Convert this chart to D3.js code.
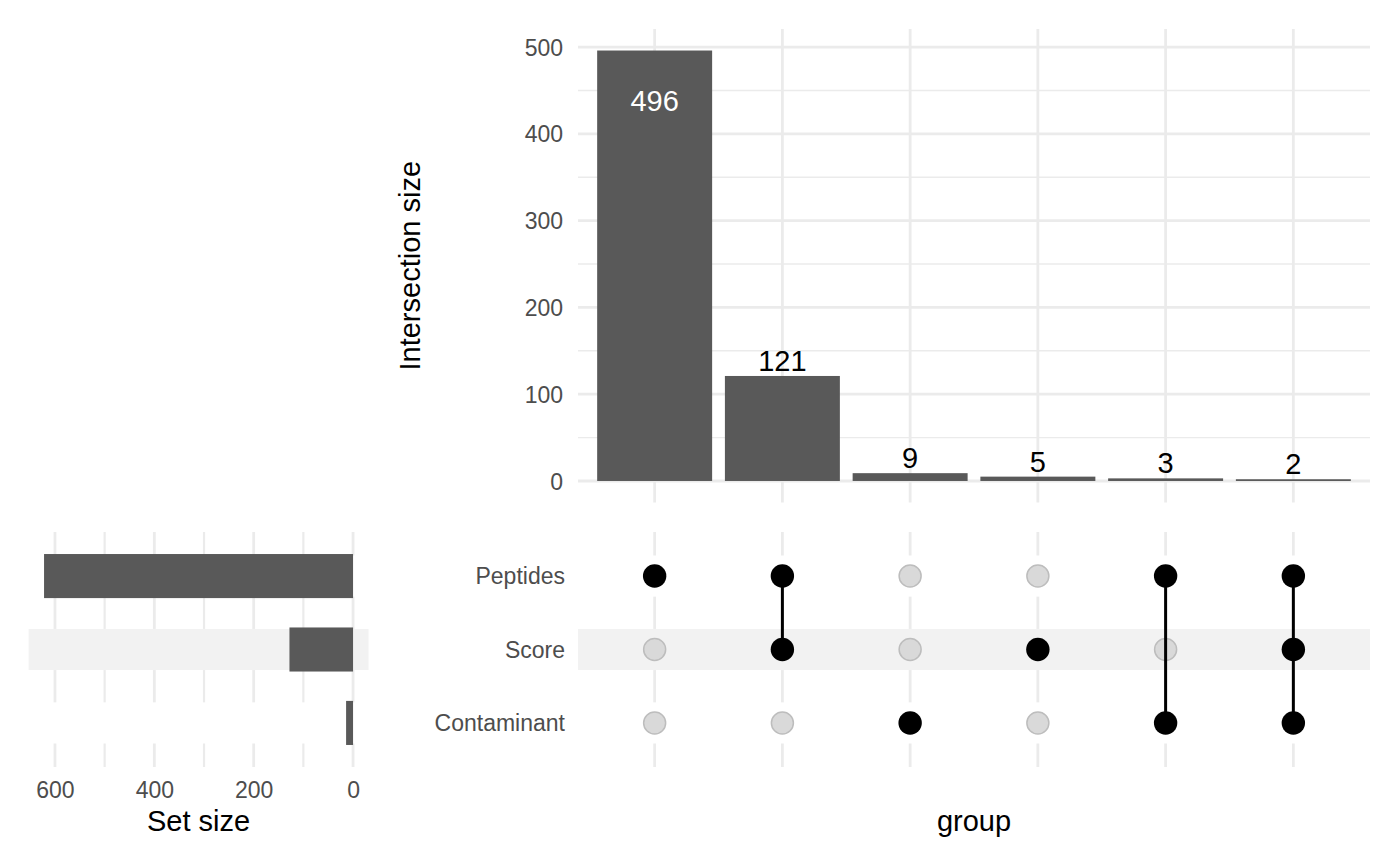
<!DOCTYPE html>
<html>
<head>
<meta charset="utf-8">
<script src="https://cdn.jsdelivr.net/npm/d3@7"></script>
<style>
  html, body { margin: 0; padding: 0; background: #fff; }
  svg { display: block; font-family: "Liberation Sans", Arial, Helvetica, sans-serif; }
</style>
</head>
<body>
<svg id="chart" width="1400" height="866"></svg>
<script>
// ---------------- data ----------------
const sets = ["Peptides", "Score", "Contaminant"];
const setSizes = [622, 128, 14];
const intersectionIds = ["Peptides", "Peptides-Score", "Contaminant", "Score", "Peptides-Contaminant", "Peptides-Score-Contaminant"];
const intersectionSizes = [496, 121, 9, 5, 3, 2];
const intersectionMembers = [
  ["Peptides"],
  ["Peptides", "Score"],
  ["Contaminant"],
  ["Score"],
  ["Peptides", "Contaminant"],
  ["Peptides", "Score", "Contaminant"]
];
const sizeTicks = [0, 100, 200, 300, 400, 500];
const sizeMinorTicks = [50, 150, 250, 350, 450];
const setTicks = [0, 200, 400, 600];
const setMinorTicks = [100, 300, 500];

// ---------------- layout ----------------
const svg = d3.select("#chart");
const gridColor = "#ebebeb";
const barColor = "#595959";
const tickColor = "#4d4d4d";

const mainX = [578, 1370];
const topY = [29, 502.5];
const matY = [532, 767];
const setX = [28.6, 368.5];

const x = d3.scalePoint().domain(intersectionIds).range(mainX).padding(0.6);
const step = x.step();

const maxI = d3.max(intersectionSizes);
const y = d3.scaleLinear().domain([-0.05 * maxI, 1.05 * maxI]).range([topY[1], topY[0]]);

const rowY = d3.scalePoint().domain(sets).range(matY).padding(0.6);
const rstep = rowY.step();

const maxS = d3.max(setSizes);
const sx = d3.scaleLinear().domain([-0.05 * maxS, 1.05 * maxS]).range([setX[1], setX[0]]);

// ---------------- top panel: intersection size ----------------
const gTop = svg.append("g");
gTop.selectAll("line.hmin").data(sizeMinorTicks).join("line")
  .attr("x1", mainX[0]).attr("x2", mainX[1])
  .attr("y1", d => y(d)).attr("y2", d => y(d))
  .attr("stroke", gridColor).attr("stroke-width", 1.4);
gTop.selectAll("line.hmaj").data(sizeTicks).join("line")
  .attr("x1", mainX[0]).attr("x2", mainX[1])
  .attr("y1", d => y(d)).attr("y2", d => y(d))
  .attr("stroke", gridColor).attr("stroke-width", 2.8);
gTop.selectAll("line.v").data(intersectionIds).join("line")
  .attr("x1", d => x(d)).attr("x2", d => x(d))
  .attr("y1", topY[0]).attr("y2", topY[1])
  .attr("stroke", gridColor).attr("stroke-width", 2.8);

const yAxis = d3.axisLeft(y).tickValues(sizeTicks).tickSize(0).tickPadding(0);
const yg = gTop.append("g").attr("transform", `translate(${563},0)`).call(yAxis);
yg.select(".domain").remove();
yg.selectAll("text").attr("fill", tickColor).attr("font-size", 23)
  .attr("font-family", "Liberation Sans, Arial, sans-serif").attr("dy", "0.35em");

const bw = step * 0.9;
gTop.selectAll("rect.bar").data(intersectionIds).join("rect")
  .attr("x", d => x(d) - bw / 2)
  .attr("width", bw)
  .attr("y", (d, i) => y(intersectionSizes[i]))
  .attr("height", (d, i) => y(0) - y(intersectionSizes[i]))
  .attr("fill", barColor);

gTop.selectAll("text.lab").data(intersectionIds).join("text")
  .attr("x", d => x(d))
  .attr("y", (d, i) => {
    const v = intersectionSizes[i];
    return v / maxI > 0.8 ? y(v) + 60 : y(v) - 5;
  })
  .attr("text-anchor", "middle")
  .attr("font-size", 29)
  .attr("fill", (d, i) => intersectionSizes[i] / maxI > 0.8 ? "#ffffff" : "#000000")
  .text((d, i) => intersectionSizes[i]);

svg.append("text")
  .attr("transform", `translate(420,${(topY[0] + topY[1]) / 2}) rotate(-90)`)
  .attr("text-anchor", "middle").attr("font-size", 29).attr("fill", "#000")
  .text("Intersection size");

// ---------------- matrix panel ----------------
const gMat = svg.append("g");
gMat.selectAll("line.mv").data(intersectionIds).join("line")
  .attr("x1", d => x(d)).attr("x2", d => x(d))
  .attr("y1", matY[0]).attr("y2", matY[1])
  .attr("stroke", gridColor).attr("stroke-width", 2.8);
const stripeH = rstep * 0.56;
gMat.selectAll("rect.stripe").data(sets).join("rect")
  .attr("x", mainX[0]).attr("width", mainX[1] - mainX[0])
  .attr("y", d => rowY(d) - stripeH / 2).attr("height", stripeH)
  .attr("fill", (d, i) => i % 2 === 1 ? "#f2f2f2" : "#ffffff");

gMat.selectAll("text.rl").data(sets).join("text")
  .attr("x", 565).attr("y", d => rowY(d)).attr("dy", "0.35em")
  .attr("text-anchor", "end").attr("font-size", 23).attr("fill", tickColor)
  .text(d => d);

const cells = [];
intersectionIds.forEach((id, i) => {
  sets.forEach(s => cells.push({ id, s, on: intersectionMembers[i].includes(s) }));
});
gMat.selectAll("circle.off").data(cells.filter(c => !c.on)).join("circle")
  .attr("cx", d => x(d.id)).attr("cy", d => rowY(d.s)).attr("r", 11)
  .attr("fill", "#d9d9d9").attr("stroke", "#bdbdbd").attr("stroke-width", 1.5);
gMat.selectAll("circle.on").data(cells.filter(c => c.on)).join("circle")
  .attr("cx", d => x(d.id)).attr("cy", d => rowY(d.s)).attr("r", 11.7)
  .attr("fill", "#000");
gMat.selectAll("line.conn").data(intersectionIds.filter((d, i) => intersectionMembers[i].length > 1)).join("line")
  .attr("x1", d => x(d)).attr("x2", d => x(d))
  .attr("y1", d => d3.min(intersectionMembers[intersectionIds.indexOf(d)], s => rowY(s)))
  .attr("y2", d => d3.max(intersectionMembers[intersectionIds.indexOf(d)], s => rowY(s)))
  .attr("stroke", "#000").attr("stroke-width", 3);

svg.append("text")
  .attr("x", (mainX[0] + mainX[1]) / 2).attr("y", 831)
  .attr("text-anchor", "middle").attr("font-size", 29).attr("fill", "#000")
  .text("group");

// ---------------- set size panel ----------------
const gSet = svg.append("g");
gSet.selectAll("line.sv").data(setTicks.concat(setMinorTicks)).join("line")
  .attr("x1", d => sx(d)).attr("x2", d => sx(d))
  .attr("y1", matY[0]).attr("y2", matY[1])
  .attr("stroke", gridColor).attr("stroke-width", d => setTicks.includes(d) ? 2.8 : 2.2);
gSet.selectAll("rect.sstripe").data(sets).join("rect")
  .attr("x", setX[0]).attr("width", setX[1] - setX[0])
  .attr("y", d => rowY(d) - stripeH / 2).attr("height", stripeH)
  .attr("fill", (d, i) => i % 2 === 1 ? "#f2f2f2" : "#ffffff");
const sbh = rstep * 0.6;
gSet.selectAll("rect.sbar").data(sets).join("rect")
  .attr("x", (d, i) => sx(setSizes[i]))
  .attr("width", (d, i) => sx(0) - sx(setSizes[i]))
  .attr("y", d => rowY(d) - sbh / 2).attr("height", sbh)
  .attr("fill", barColor);

const sxAxis = d3.axisBottom(sx).tickValues(setTicks).tickSize(0).tickPadding(0);
const sg = gSet.append("g").attr("transform", `translate(0,798)`).call(sxAxis);
sg.select(".domain").remove();
sg.selectAll("text").attr("fill", tickColor).attr("font-size", 23)
  .attr("font-family", "Liberation Sans, Arial, sans-serif").attr("dy", "0");

svg.append("text")
  .attr("x", (setX[0] + setX[1]) / 2).attr("y", 831)
  .attr("text-anchor", "middle").attr("font-size", 29).attr("fill", "#000")
  .text("Set size");
</script>
</body>
</html>
